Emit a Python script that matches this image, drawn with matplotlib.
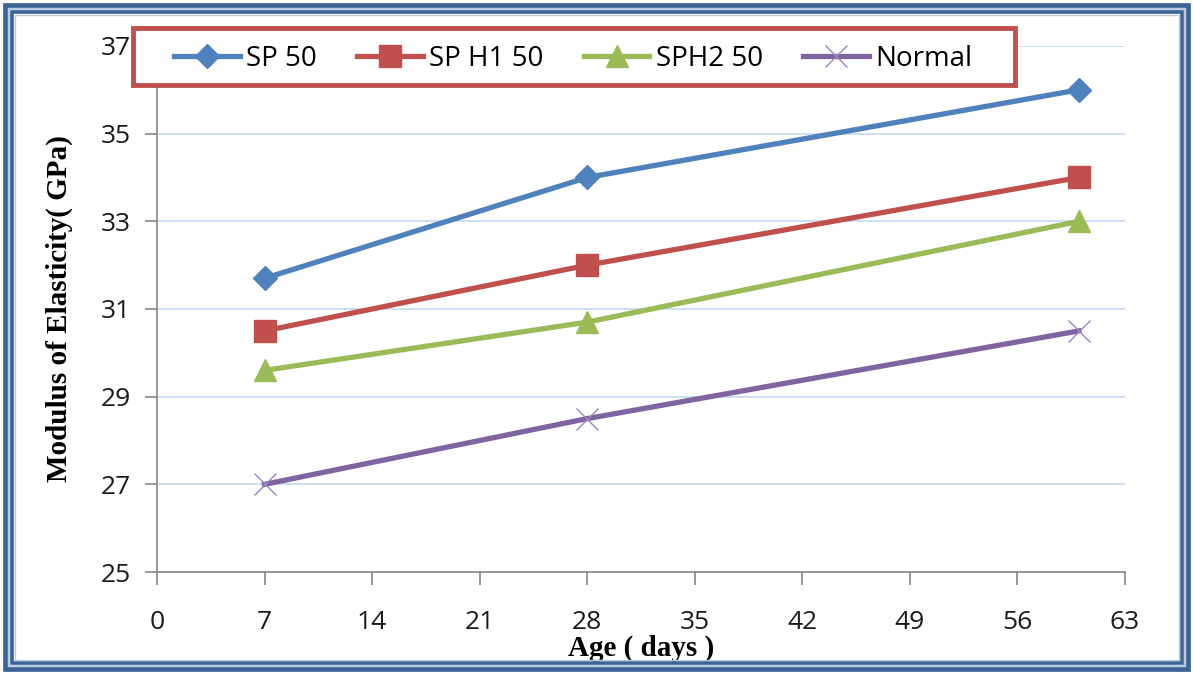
import matplotlib
matplotlib.use("Agg")
import matplotlib.pyplot as plt
from matplotlib.patches import Rectangle

# Modulus of elasticity vs age for each mix
ages = [7, 28, 60]
sp50 = [31.7, 34.0, 36.0]
sph1_50 = [30.5, 32.0, 34.0]
sph2_50 = [29.6, 30.7, 33.0]
normal = [27.0, 28.5, 30.5]

series_names = ["SP 50", "SP H1 50", "SPH2 50", "Normal"]
x_ticks = [0, 7, 14, 21, 28, 35, 42, 49, 56, 63]
y_ticks = [25, 27, 29, 31, 33, 35, 37]

TICK_FONT = "Open Sans"
LABEL_FONT = "Liberation Serif"

fig = plt.figure(figsize=(11.93, 6.74), dpi=100)
ax = fig.add_axes([0.1316, 0.1513, 0.8114, 0.7805])

styles = [
    dict(color="#4F81BD", marker="D", markersize=12),
    dict(color="#C0504D", marker="s", markersize=16),
    dict(color="#9BBB59", marker="^", markersize=16),
    dict(color="#8064A2", marker="x", markersize=16, markeredgewidth=1.0,
         markeredgecolor="#9B85BD"),
]
for vals, name, st in zip([sp50, sph1_50, sph2_50, normal], series_names, styles):
    ax.plot(ages, vals, label=name, linewidth=3.8, **st)

ax.set_xlim(0, 63)
ax.set_ylim(25, 37)
ax.set_xticks(x_ticks)
ax.set_yticks(y_ticks)
ax.grid(axis="y", color="#C6D9F1", linewidth=1.2)
ax.set_axisbelow(True)

for side in ["top", "right"]:
    ax.spines[side].set_visible(False)
for side in ["left", "bottom"]:
    ax.spines[side].set_color("#868686")
    ax.spines[side].set_linewidth(1.2)

ax.tick_params(axis="both", colors="#868686", length=9, width=1.2,
               labelcolor="#1a1a1a", labelsize=19)
ax.tick_params(axis="x", pad=18)
ax.tick_params(axis="y", pad=10)
for lbl in ax.get_xticklabels() + ax.get_yticklabels():
    lbl.set_fontfamily(TICK_FONT)

ax.set_xlabel("Age ( days )", fontfamily=LABEL_FONT, fontweight="bold",
              fontsize=21, labelpad=0)
ax.set_ylabel("Modulus of Elasticity( GPa)", fontfamily=LABEL_FONT,
              fontweight="bold", fontsize=21, labelpad=20)

# red legend box, white inside, sitting over the top of the plot
box = Rectangle((-0.0248, 0.9259), 0.9112, 0.1084, transform=ax.transAxes,
                facecolor="white", edgecolor="#C0504D", linewidth=3.5,
                clip_on=False, zorder=5)
ax.add_patch(box)

leg = ax.legend(loc="upper left", bbox_to_anchor=(0.0176, 1.002),
                ncol=4, frameon=False, borderaxespad=0.0, borderpad=0.0,
                prop={"family": TICK_FONT, "size": 20},
                handlelength=2.37, handletextpad=0.22, columnspacing=1.45)
leg.set_zorder(6)

# double blue frame around the whole figure
W, H = 1193, 674
def frame(off, lw, color):
    fig.patches.append(Rectangle((off / W, off / H), 1 - 2 * off / W, 1 - 2 * off / H,
                                 transform=fig.transFigure, fill=False,
                                 edgecolor=color, linewidth=lw))

frame(5, 3.4, "#3C6496")
frame(8.5, 1.4, "#B9CBE0")
frame(11.5, 2.6, "#3C6496")
frame(14.5, 1.0, "#B9CBE0")

fig.savefig("out.png", dpi=100)
